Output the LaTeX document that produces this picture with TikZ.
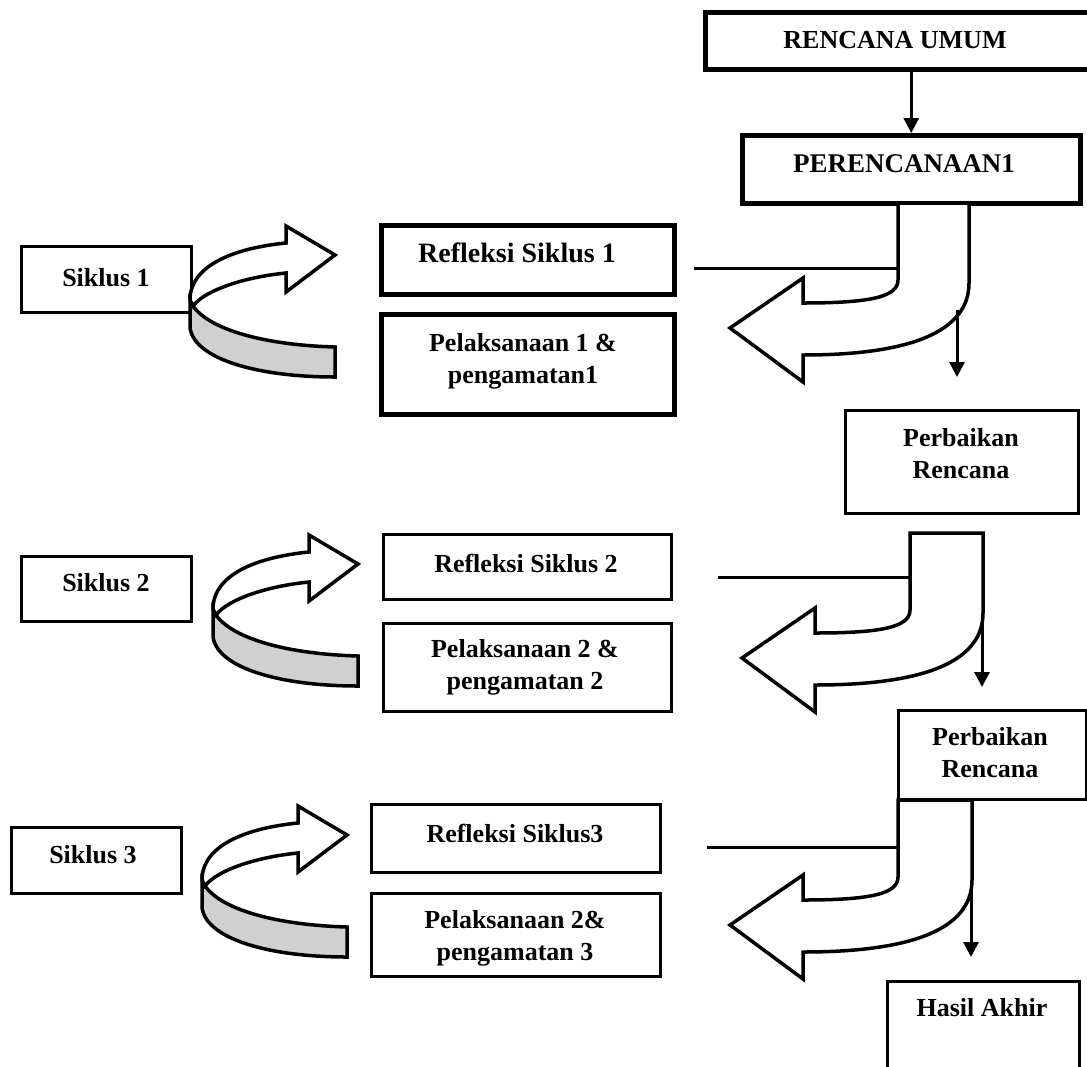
\documentclass[tikz,border=0pt]{standalone}
\usepackage{fontspec}
\setmainfont{Liberation Serif}
\usetikzlibrary{arrows.meta}
\definecolor{bandgray}{RGB}{208,208,208}
\tikzset{
  box/.style={draw, line width=3pt, inner sep=0pt, anchor=north west},
  thickbox/.style={box, line width=4.5pt},
  txt/.style={font=\bfseries\fontsize{26}{32}\selectfont, align=center, inner sep=0pt},
  arrowline/.style={draw, line width=3.5pt, line join=miter},
  conn/.style={line width=3pt},
  downarr/.style={line width=3pt, -{Triangle[length=15pt,width=15pt]}}
}
\newcommand\curvarr[2]{%
  \begin{scope}[shift={(#1,#2)}]
    \path[arrowline, fill=bandgray] (190,300) -- (190,328) .. controls (195,360) and (260,377) .. (335,377)
      -- (335,347) .. controls (265,345) and (210,330) .. (193,306) -- cycle;
    \path[arrowline, fill=white] (190,300) .. controls (190,265) and (235,248) .. (286,243)
      -- (286,226) -- (335,255) -- (286,292) -- (286,273)
      .. controls (245,277) and (205,290) .. (193,306) -- cycle;
  \end{scope}}
\newcommand\bentarr[3]{%
  \begin{scope}[shift={(#1,#2)}]
    \path[arrowline, fill=white] (0,0) -- (0,77) .. controls (0,94) and (-28,100) .. (-95,100)
      -- (-95,75) -- (-168,125) -- (-95,179) -- (-95,152)
      .. controls (#3-44,152) and (#3,122) .. (#3,80) -- (#3,0) -- cycle;
  \end{scope}}
\begin{document}
\begin{tikzpicture}[x=1pt,y=-1pt]
\useasboundingbox (0,0) rectangle (1087,1066);

% boxes
\node[thickbox, minimum width=390pt, minimum height=57pt] (ru) at (703,10) {};
\node[thickbox, minimum width=338pt, minimum height=68pt] (p1) at (740,133) {};
\node[box, minimum width=170pt, minimum height=66pt] (s1) at (20,245) {};
\node[thickbox, minimum width=293pt, minimum height=69pt] (r1) at (379,223) {};
\node[thickbox, minimum width=293pt, minimum height=100pt] (pl1) at (379,312) {};
\node[box, minimum width=233pt, minimum height=103pt] (pb1) at (844,409) {};
\node[box, minimum width=170pt, minimum height=65pt] (s2) at (20,555) {};
\node[box, minimum width=288pt, minimum height=65pt] (r2) at (382,533) {};
\node[box, minimum width=288pt, minimum height=88pt] (pl2) at (382,622) {};
\node[box, minimum width=188pt, minimum height=89pt] (pb2) at (897,709) {};
\node[box, minimum width=170pt, minimum height=66pt] (s3) at (10,826) {};
\node[box, minimum width=289pt, minimum height=68pt] (r3) at (370,803) {};
\node[box, minimum width=289pt, minimum height=83pt] (pl3) at (370,892) {};
\node[box, minimum width=192pt, minimum height=120pt] (ha) at (886,980) {};

% texts
\node[txt] (tru) at (895,40) {RENCANA UMUM};
\node[txt, font=\bfseries\fontsize{27}{32}\selectfont] (tp1) at (904,164) {PERENCANAAN1};
\node[txt] (ts1) at (106,278) {Siklus 1};
\node[txt, font=\bfseries\fontsize{28}{32}\selectfont] (tr1) at (517,253) {Refleksi Siklus 1};
\node[txt] (tpl1) at (523,361) {Pelaksanaan 1 \&\\pengamatan1};
\node[txt] (tpb1) at (961,454) {Perbaikan\\Rencana};
\node[txt] (ts2) at (106,583) {Siklus 2};
\node[txt] (tr2) at (526,563) {Refleksi Siklus 2};
\node[txt] (tpl2) at (525,667) {Pelaksanaan 2 \&\\pengamatan 2};
\node[txt] (tpb2) at (990,753) {Perbaikan\\Rencana};
\node[txt] (ts3) at (93,855) {Siklus 3};
\node[txt] (tr3) at (515,833) {Refleksi Siklus3};
\node[txt] (tpl3) at (515,938) {Pelaksanaan 2\&\\pengamatan 3};
\node[txt] (tha) at (982,1008) {Hasil Akhir};

% top arrow
\draw[downarr] (ru.south -| p1.north) -- (p1.north);

% curved arrows (left)
\curvarr{0}{0}
\curvarr{23}{309}
\curvarr{12}{580}

% bent arrows (right)
\bentarr{898}{203}{71}
\bentarr{910}{533}{73}
\bentarr{898}{800}{74}

% horizontal connectors
\coordinate (h1a) at (694,268); \coordinate (h1b) at (898,268);
\coordinate (h2a) at (718,577); \coordinate (h2b) at (910,577);
\coordinate (h3a) at (707,847); \coordinate (h3b) at (898,847);
\draw[conn] (h1a) -- (h1b);
\draw[conn] (h2a) -- (h2b);
\draw[conn] (h3a) -- (h3b);

% down arrows
\coordinate (d1a) at (957,310); \coordinate (d1b) at (957,377);
\coordinate (d2a) at (982,620); \coordinate (d2b) at (982,687);
\coordinate (d3a) at (971,890); \coordinate (d3b) at (971,957);
\draw[downarr] (d1a) -- (d1b);
\draw[downarr] (d2a) -- (d2b);
\draw[downarr] (d3a) -- (d3b);
\end{tikzpicture}
\end{document}
